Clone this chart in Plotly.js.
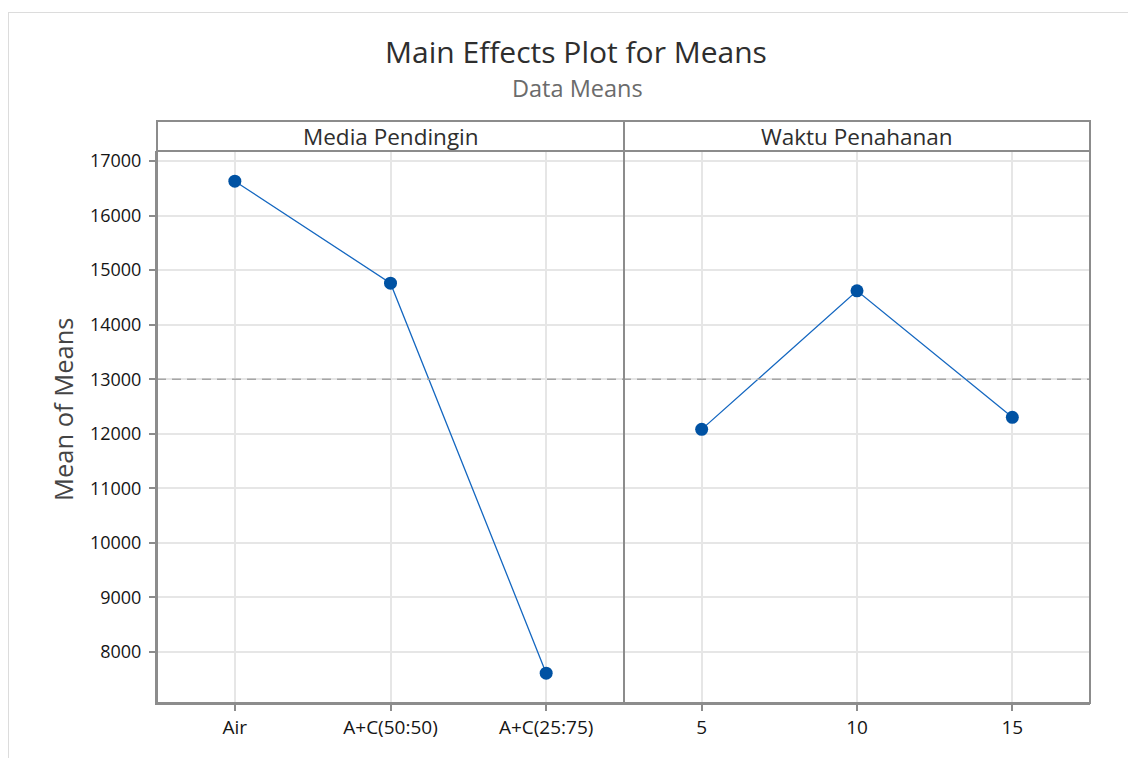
<!DOCTYPE html>
<html>
<head>
<meta charset="utf-8">
<script src="https://cdn.plot.ly/plotly-3.0.1.min.js"></script>
<style>
  html, body { margin: 0; padding: 0; background: #ffffff; }
  #frame { position: absolute; left: 8px; top: 12px; width: 1200px; height: 800px;
           border-top: 1.5px solid #dcdcdc; border-left: 1.5px solid #dcdcdc; }
  #chart { position: absolute; left: 0; top: 0; width: 1128px; height: 758px; }
</style>
</head>
<body>
<div id="frame"></div>
<div id="chart"></div>
<script>
// ---- data ----
const mediaLabels = ["Air", "A+C(50:50)", "A+C(25:75)"];
const mediaMeans = [16630, 14760, 7610];
const waktuLabels = ["5", "10", "15"];
const waktuMeans = [12080, 14620, 12300];
const panelTitles = ["Media Pendingin", "Waktu Penahanan"];
const yTicks = [8000, 9000, 10000, 11000, 12000, 13000, 14000, 15000, 16000, 17000];

const grandMean = mediaMeans.concat(waktuMeans).reduce((a, b) => a + b, 0) / (mediaMeans.length + waktuMeans.length);

// ---- geometry (pixels) ----
const W = 1128, H = 758;
const L = 157, R = 1090, T = 151, B = 703;
const plotW = R - L, plotH = B - T;
const stripH = 30;
const split = (624 - L) / plotW;
const stripTop = 1 + stripH / plotH;

const font = "'Open Sans', 'Noto Sans', 'DejaVu Sans', sans-serif";
const lineCol = "#1467c0";
const markCol = "#0052a3";
const axisCol = "#8c8c8c";
const gridCol = "#e6e6e6";

const traceStyle = {
  type: "scatter", mode: "lines+markers",
  line: { color: lineCol, width: 1.3 },
  marker: { color: markCol, size: 13, symbol: "circle" },
  showlegend: false, hoverinfo: "x+y"
};

const data = [
  Object.assign({}, traceStyle, { x: mediaLabels, y: mediaMeans, xaxis: "x", yaxis: "y" }),
  Object.assign({}, traceStyle, { x: waktuLabels, y: waktuMeans, xaxis: "x2", yaxis: "y" })
];

const yTickFont = { family: font, size: 18, color: "#151515" };
const xTickFont = { family: font, size: 19, color: "#151515" };

const xBase = {
  type: "category", range: [-0.5, 2.5], anchor: "y",
  showline: true, linecolor: axisCol, linewidth: 2,
  ticks: "outside", ticklen: 6, tickcolor: axisCol, tickwidth: 1.5,
  showgrid: true, gridcolor: gridCol, gridwidth: 1.5,
  tickfont: xTickFont, zeroline: false, fixedrange: true, ticklabelstandoff: 0
};

const layout = {
  width: W, height: H,
  paper_bgcolor: "rgba(0,0,0,0)", plot_bgcolor: "#ffffff",
  margin: { l: L, r: W - R, t: T, b: H - B, pad: 0 },
  font: { family: font },
  title: {
    text: "Main Effects Plot for Means",
    font: { family: font, size: 30, color: "#2e2e2e" },
    xref: "container", x: 576 / W, xanchor: "center",
    yref: "container", y: 1 - 52 / H, yanchor: "middle"
  },
  xaxis: Object.assign({}, xBase, { domain: [0, split], categoryarray: mediaLabels, categoryorder: "array" }),
  xaxis2: Object.assign({}, xBase, { domain: [split, 1], categoryarray: waktuLabels, categoryorder: "array" }),
  yaxis: {
    range: [7064, 17183], tickvals: yTicks, ticktext: yTicks.map(String),
    showline: true, linecolor: axisCol, linewidth: 2,
    ticks: "outside", ticklen: 6, tickcolor: axisCol, tickwidth: 1.5,
    showgrid: true, gridcolor: gridCol, gridwidth: 1.5,
    tickfont: yTickFont, zeroline: false, fixedrange: true, ticklabelstandoff: 4
  },
  shapes: [
    // grand mean reference line
    { type: "line", xref: "paper", yref: "y", x0: 0, x1: 1, y0: grandMean, y1: grandMean,
      line: { color: "#a6a6a6", width: 1.5, dash: "9px,6px" }, layer: "above" },
    // outer frame incl. strip
    { type: "rect", xref: "paper", yref: "paper", x0: 0, x1: 1, y0: 0, y1: stripTop,
      line: { color: axisCol, width: 2 }, fillcolor: "rgba(0,0,0,0)" },
    // strip bottom line
    { type: "line", xref: "paper", yref: "paper", x0: 0, x1: 1, y0: 1, y1: 1,
      line: { color: axisCol, width: 2 } },
    // panel divider
    { type: "line", xref: "paper", yref: "paper", x0: split, x1: split, y0: 0, y1: stripTop,
      line: { color: axisCol, width: 2 } }
  ],
  annotations: [
    { text: "Data Means", xref: "paper", yref: "paper",
      x: (577 - L) / plotW, y: (B - 88) / plotH, xanchor: "center", yanchor: "middle",
      showarrow: false, font: { family: font, size: 23.5, color: "#6b6b6b" } },
    { text: panelTitles[0], xref: "paper", yref: "paper",
      x: split / 2, y: 1 + (stripH / 2) / plotH, xanchor: "center", yanchor: "middle",
      showarrow: false, font: { family: font, size: 22.5, color: "#2e2e2e" } },
    { text: panelTitles[1], xref: "paper", yref: "paper",
      x: (split + 1) / 2, y: 1 + (stripH / 2) / plotH, xanchor: "center", yanchor: "middle",
      showarrow: false, font: { family: font, size: 22.5, color: "#2e2e2e" } },
    { text: "Mean of Means", xref: "paper", yref: "paper", textangle: -90,
      x: (63 - L) / plotW, y: (B - 410) / plotH, xanchor: "center", yanchor: "middle",
      showarrow: false, font: { family: font, size: 25.5, color: "#444444" } }
  ]
};

Plotly.newPlot("chart", data, layout, { displayModeBar: false, staticPlot: false });
</script>
</body>
</html>
